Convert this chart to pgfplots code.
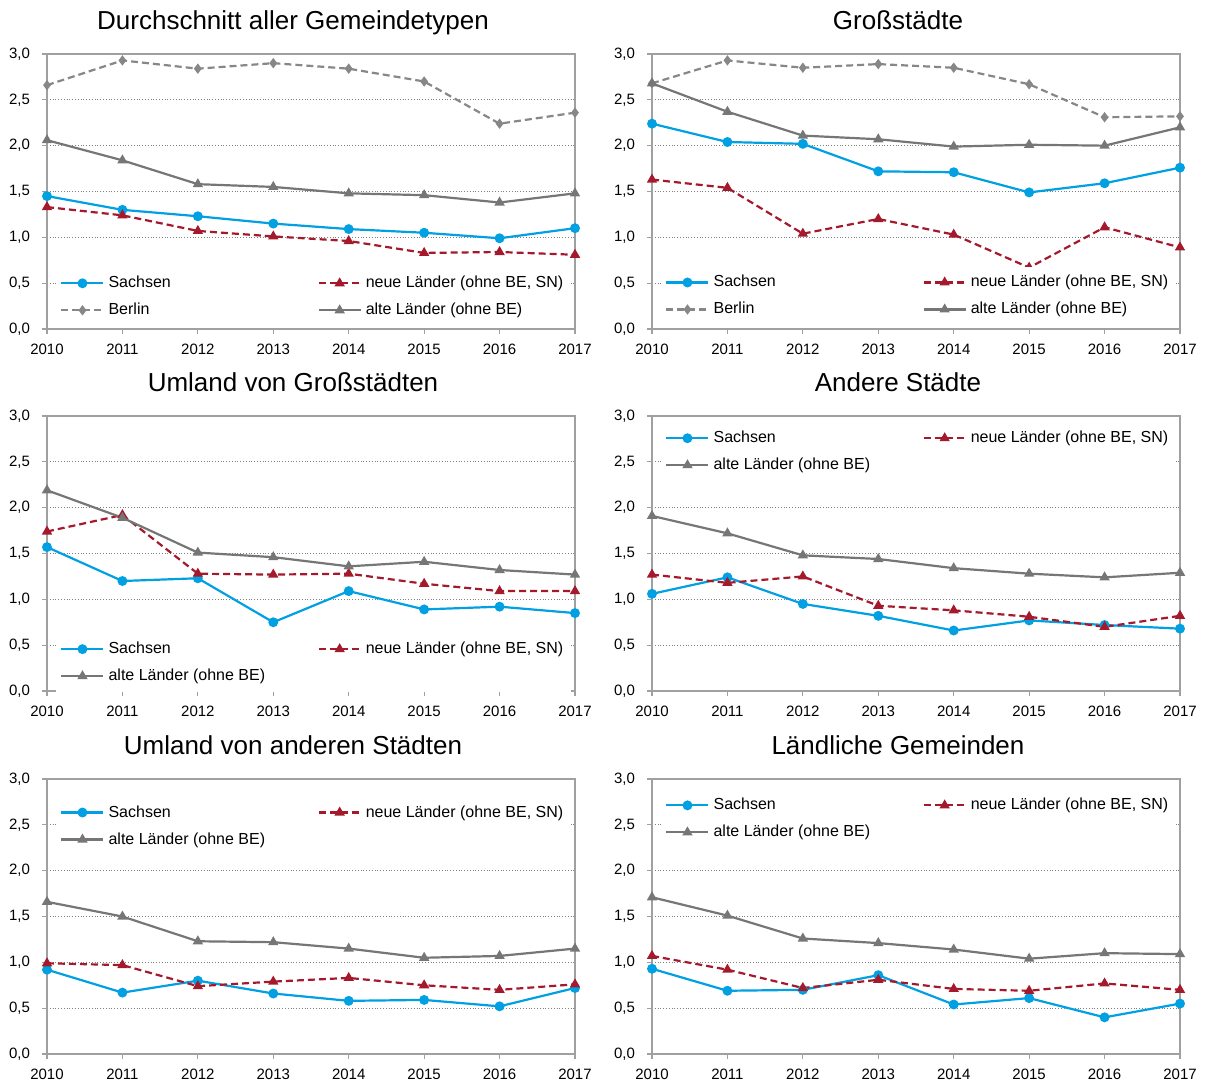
\documentclass[border=0pt]{standalone}
\usepackage{fontspec}
\setmainfont{Liberation Sans}
\usepackage{pgfplots}
\usepackage{pgfplotstable}
\pgfplotsset{compat=1.18}

\definecolor{sachsen}{RGB}{0,160,226}
\definecolor{neue}{RGB}{165,25,45}
\definecolor{berlin}{RGB}{135,135,135}
\definecolor{alte}{RGB}{118,118,118}
\definecolor{axisgray}{RGB}{160,160,160}

% year, Sachsen, neue Laender, Berlin, alte Laender
\pgfplotstableread{
year sx   nl   be   al
2010 1.45 1.33 2.66 2.06
2011 1.30 1.24 2.93 1.84
2012 1.23 1.07 2.84 1.58
2013 1.15 1.01 2.90 1.55
2014 1.09 0.96 2.84 1.48
2015 1.05 0.83 2.70 1.46
2016 0.99 0.84 2.24 1.38
2017 1.10 0.81 2.36 1.48
}\tabA
\pgfplotstableread{
year sx   nl   be   al
2010 2.24 1.63 2.68 2.68
2011 2.04 1.54 2.93 2.37
2012 2.02 1.04 2.85 2.11
2013 1.72 1.20 2.89 2.07
2014 1.71 1.03 2.85 1.99
2015 1.49 0.67 2.67 2.01
2016 1.59 1.11 2.31 2.00
2017 1.76 0.89 2.32 2.20
}\tabB
\pgfplotstableread{
year sx   nl   al
2010 1.57 1.74 2.19
2011 1.20 1.92 1.89
2012 1.23 1.28 1.51
2013 0.75 1.27 1.46
2014 1.09 1.28 1.36
2015 0.89 1.17 1.41
2016 0.92 1.09 1.32
2017 0.85 1.09 1.27
}\tabC
\pgfplotstableread{
year sx   nl   al
2010 1.06 1.27 1.91
2011 1.24 1.18 1.72
2012 0.95 1.25 1.48
2013 0.82 0.93 1.44
2014 0.66 0.88 1.34
2015 0.77 0.81 1.28
2016 0.72 0.70 1.24
2017 0.68 0.82 1.29
}\tabD
\pgfplotstableread{
year sx   nl   al
2010 0.92 0.99 1.66
2011 0.67 0.97 1.50
2012 0.80 0.74 1.23
2013 0.66 0.79 1.22
2014 0.58 0.83 1.15
2015 0.59 0.75 1.05
2016 0.52 0.70 1.07
2017 0.72 0.76 1.15
}\tabE
\pgfplotstableread{
year sx   nl   al
2010 0.93 1.07 1.71
2011 0.69 0.92 1.51
2012 0.70 0.72 1.26
2013 0.86 0.81 1.21
2014 0.54 0.71 1.14
2015 0.61 0.69 1.04
2016 0.40 0.77 1.10
2017 0.55 0.70 1.09
}\tabF

\pgfplotsset{
  sx/.style={sachsen, line width=1.1pt, mark=*, mark size=1.9pt, mark options={solid}},
  nl/.style={neue, line width=1.1pt, dash pattern=on 3.5pt off 2pt, mark=triangle*, mark size=1.9pt, mark options={solid}},
  be/.style={berlin, line width=1.1pt, dash pattern=on 3.5pt off 2pt, mark=diamond*, mark size=1.7pt, mark options={solid}},
  al/.style={alte, line width=1.1pt, mark=triangle*, mark size=1.9pt, mark options={solid}},
  panel/.style={
    scale only axis, width=264pt, height=137.5pt,
    anchor=south west,
    xmin=2010, xmax=2017, ymin=0, ymax=3,
    xtick={2010,2011,2012,2013,2014,2015,2016,2017},
    ytick={0,0.5,1,1.5,2,2.5,3},
    axis line style={axisgray, line width=0.6pt},
    tick style={axisgray, line width=0.6pt},
    major tick length=2.5pt, tick align=outside, tick pos=left,
    ymajorgrids, major grid style={black!50, densely dotted, line width=0.4pt},
    /pgf/number format/assume math mode=true,
    ticklabel style={font=\fontsize{7.5}{9}\selectfont},
    yticklabel style={xshift=-2.5pt, /pgf/number format/.cd, fixed, fixed zerofill, precision=1, use comma},
    xticklabel style={yshift=-1.5pt, /pgf/number format/1000 sep=},
    title style={font=\fontsize{13}{15}\selectfont, at={(0.5,1)}, anchor=base, yshift=6.5pt, xshift=-9pt},
    legend columns=2,
    legend image code/.code={\draw[mark repeat=2,mark phase=2] plot coordinates {(0pt,0pt) (10.5pt,0pt) (21pt,0pt)};},
    legend style={draw=none, fill=white, inner xsep=2pt, inner ysep=2pt, row sep=2pt, column sep=0pt,
      cells={anchor=west}, nodes={inner sep=2pt, text height=6pt, text depth=1.5pt},
      font=\fontsize{8}{9.6}\selectfont, anchor=north west},
  },
}

\begin{document}
\begin{tikzpicture}
\path[use as bounding box] (0,-1pt) rectangle (602.5pt,-542pt);

\begin{axis}[panel, at={(23.5pt,-165.5pt)}, title={Durchschnitt aller Gemeindetypen}, legend style={at={(0.017,0.224)}}]
\addplot[sx] table[x=year,y=sx]{\tabA}; \addlegendentry{\makebox[102.5pt][l]{Sachsen}}
\addplot[nl] table[x=year,y=nl]{\tabA}; \addlegendentry{neue Länder (ohne BE, SN)}
\addplot[be] table[x=year,y=be]{\tabA}; \addlegendentry{Berlin}
\addplot[al] table[x=year,y=al]{\tabA}; \addlegendentry{alte Länder (ohne BE)}
\end{axis}

\begin{axis}[panel, at={(326pt,-165.5pt)}, title={Großstädte}, legend style={at={(0.017,0.227)}}]
\addplot[sx] table[x=year,y=sx]{\tabB}; \addlegendentry{\makebox[102.5pt][l]{Sachsen}}
\addplot[nl] table[x=year,y=nl]{\tabB}; \addlegendentry{neue Länder (ohne BE, SN)}
\addplot[be] table[x=year,y=be]{\tabB}; \addlegendentry{Berlin}
\addplot[al] table[x=year,y=al]{\tabB}; \addlegendentry{alte Länder (ohne BE)}
\end{axis}

\begin{axis}[panel, at={(23.5pt,-346.5pt)}, title={Umland von Großstädten}, legend style={at={(0.017,0.21)}}]
\addplot[sx] table[x=year,y=sx]{\tabC}; \addlegendentry{\makebox[102.5pt][l]{Sachsen}}
\addplot[nl] table[x=year,y=nl]{\tabC}; \addlegendentry{neue Länder (ohne BE, SN)}
\addplot[al] table[x=year,y=al]{\tabC}; \addlegendentry{alte Länder (ohne BE)}
\end{axis}

\begin{axis}[panel, at={(326pt,-346.5pt)}, title={Andere Städte}, legend style={at={(0.017,0.977)}}]
\addplot[sx] table[x=year,y=sx]{\tabD}; \addlegendentry{\makebox[102.5pt][l]{Sachsen}}
\addplot[nl] table[x=year,y=nl]{\tabD}; \addlegendentry{neue Länder (ohne BE, SN)}
\addplot[al] table[x=year,y=al]{\tabD}; \addlegendentry{alte Länder (ohne BE)}
\end{axis}

\begin{axis}[panel, at={(23.5pt,-528pt)}, title={Umland von anderen Städten}, legend style={at={(0.017,0.936)}}]
\addplot[sx] table[x=year,y=sx]{\tabE}; \addlegendentry{\makebox[102.5pt][l]{Sachsen}}
\addplot[nl] table[x=year,y=nl]{\tabE}; \addlegendentry{neue Länder (ohne BE, SN)}
\addplot[al] table[x=year,y=al]{\tabE}; \addlegendentry{alte Länder (ohne BE)}
\end{axis}

\begin{axis}[panel, at={(326pt,-528pt)}, title={Ländliche Gemeinden}, legend style={at={(0.017,0.962)}}]
\addplot[sx] table[x=year,y=sx]{\tabF}; \addlegendentry{\makebox[102.5pt][l]{Sachsen}}
\addplot[nl] table[x=year,y=nl]{\tabF}; \addlegendentry{neue Länder (ohne BE, SN)}
\addplot[al] table[x=year,y=al]{\tabF}; \addlegendentry{alte Länder (ohne BE)}
\end{axis}
\end{tikzpicture}
\end{document}
